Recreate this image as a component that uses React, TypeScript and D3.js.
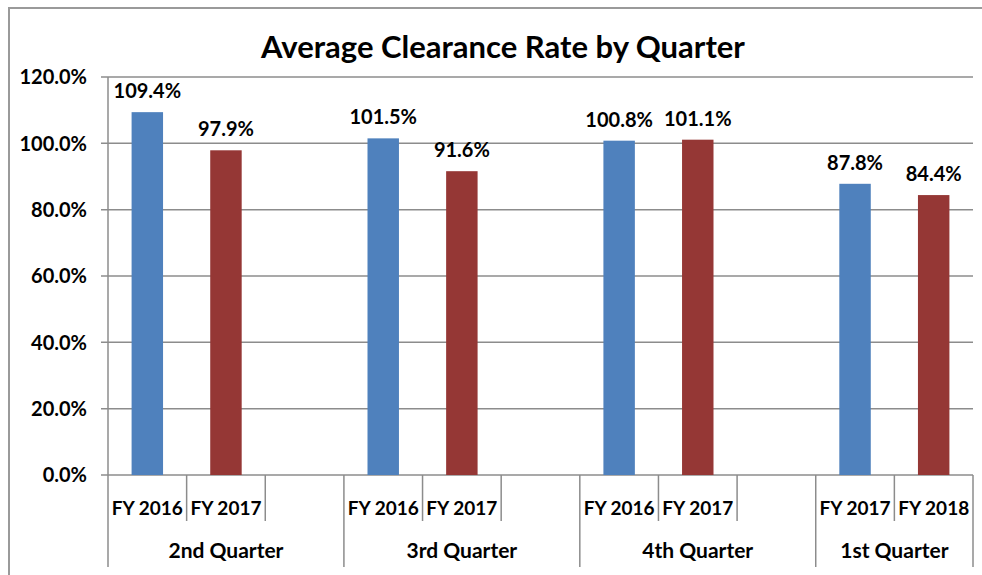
import React from 'react';
import * as d3 from 'd3';

// data
const quarters = ['2nd Quarter', '3rd Quarter', '4th Quarter', '1st Quarter'];
const fiscalYears = ['FY 2016', 'FY 2017', '', 'FY 2016', 'FY 2017', '', 'FY 2016', 'FY 2017', '', 'FY 2017', 'FY 2018'];
const quarterOf = [0, 0, 0, 1, 1, 1, 2, 2, 2, 3, 3];
const rates: (number | null)[] = [109.4, 97.9, null, 101.5, 91.6, null, 100.8, 101.1, null, 87.8, 84.4];
const yTicks = [0, 20, 40, 60, 80, 100, 120];

const width = 982;
const height = 575;
const plot = { left: 108, right: 973, top: 77, bottom: 475 };
const colors = ['#4f81bd', '#953735'];
const font = 'Lato, "Open Sans", sans-serif';

const App = () => {
  const x = d3.scaleBand<number>()
    .domain(d3.range(fiscalYears.length))
    .range([plot.left, plot.right]);

  const y = d3.scaleLinear()
    .domain([0, 120])
    .range([plot.bottom, plot.top]);

  const barW = x.bandwidth() * 0.4;
  const fmt = (v: number) => v.toFixed(1) + '%';

  // position of each slot inside its quarter, decides the colour
  const posInQuarter = fiscalYears.map((_, i) => i - quarterOf.indexOf(quarterOf[i]));

  // boundaries between slots; long ones where the quarter changes
  const bounds = d3.range(fiscalYears.length + 1).map(i => ({
    x: i < fiscalYears.length ? x(i)! : plot.right,
    long: i === 0 || i === fiscalYears.length || quarterOf[i] !== quarterOf[i - 1],
  }));

  const quarterSpans = quarters.map((q, qi) => {
    const idx = quarterOf.map((v, i) => (v === qi ? i : -1)).filter(i => i >= 0);
    const x0 = x(idx[0])!;
    const x1 = x(idx[idx.length - 1])! + x.bandwidth();
    return { q, mid: (x0 + x1) / 2 };
  });

  return (
    <svg width={width} height={height} style={{ display: 'block', position: 'absolute', left: 0, top: 0 }}
      fontFamily={font} fontWeight="bold">
      <rect x={0} y={0} width={width} height={height} fill="#fff" />
      {/* chart frame */}
      <path d={`M9,${height + 5}V8H${width + 5}`} fill="none" stroke="#9a9a9a" strokeWidth={2} />

      <text x={503} y={58} textAnchor="middle" fontSize={31} fill="#000">
        Average Clearance Rate by Quarter
      </text>

      {/* gridlines and y labels */}
      {yTicks.map(t => (
        <g key={t}>
          <line x1={101} x2={plot.right} y1={y(t)} y2={y(t)} stroke="#8c8c8c" strokeWidth={1.5} />
          <text x={87} y={y(t)} dy="0.36em" textAnchor="end" fontSize={20} fill="#000">
            {fmt(t)}
          </text>
        </g>
      ))}
      <line x1={plot.left} x2={plot.left} y1={plot.top} y2={plot.bottom} stroke="#8c8c8c" strokeWidth={1.5} />

      {/* bars */}
      {rates.map((v, i) => v === null ? null : (
        <g key={i}>
          <rect x={x(i)! + (x.bandwidth() - barW) / 2} y={y(v)} width={barW} height={y(0) - y(v)}
            fill={colors[posInQuarter[i]]} />
          <text x={x(i)! + x.bandwidth() / 2} y={y(v) - 14} textAnchor="middle" fontSize={20} fill="#000">
            {fmt(v)}
          </text>
        </g>
      ))}

      {/* category axis */}
      {bounds.map((b, i) => (
        <line key={i} x1={b.x} x2={b.x} y1={plot.bottom} y2={b.long ? 567 : 521}
          stroke="#8c8c8c" strokeWidth={1.5} />
      ))}
      {fiscalYears.map((f, i) => (
        <text key={i} x={x(i)! + x.bandwidth() / 2} y={515} textAnchor="middle" fontSize={19} fill="#000">
          {f}
        </text>
      ))}
      {quarterSpans.map(s => (
        <text key={s.q} x={s.mid} y={558} textAnchor="middle" fontSize={21} fill="#000">
          {s.q}
        </text>
      ))}
    </svg>
  );
};

export default App;
